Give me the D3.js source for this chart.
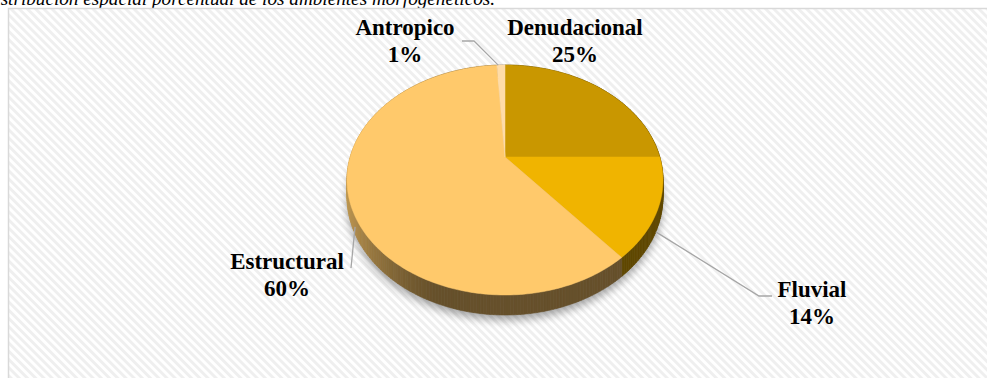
<!DOCTYPE html>
<html>
<head>
<meta charset="utf-8">
<script src="https://cdn.jsdelivr.net/npm/d3@7"></script>
<style>
  html, body { margin: 0; padding: 0; background: #ffffff; }
  svg { display: block; }
</style>
</head>
<body>
<svg id="chart" width="987" height="378"></svg>
<script>
// Morphogenetic environments, share of area (%)
const categories = ["Denudacional", "Fluvial", "Estructural", "Antropico"];
const shares = [25, 14, 60, 1];
const shareLabels = ["25%", "14%", "60%", "1%"];
const topColors = ["#C99700", "#F0B400", "#FFC96B", "#FFDCA8"];

const titleText = "Distribución espacial porcentual de los ambientes morfogenéticos.";

// Label placement: text centre / first baseline, plus the leader line geometry
const labelLayout = {
  Denudacional: { x: 575, y: 35 },
  Fluvial: { x: 812, y: 297, elbow: [772, 296], knee: [759, 296], angle: 118, depthFrac: 1.0 },
  Estructural: { x: 287, y: 269, elbow: null, knee: [351, 268], angle: 241, depthFrac: 0.6 },
  Antropico: { x: 405, y: 35, elbow: [462, 41], knee: [474, 41], angle: 357, depthFrac: 0 }
};

const W = 987, H = 378;
const serif = "'Liberation Serif', 'Times New Roman', Tinos, serif";
const svg = d3.select("#chart");
const defs = svg.append("defs");

// Diagonal hatch for the chart area
const pat = defs.append("pattern")
  .attr("id", "hatch")
  .attr("patternUnits", "userSpaceOnUse")
  .attr("width", 5.8).attr("height", 5.8)
  .attr("patternTransform", "rotate(-45)");
pat.append("rect").attr("width", 5.8).attr("height", 5.8).attr("fill", "#ffffff");
pat.append("rect").attr("width", 2.9).attr("height", 5.8).attr("fill", "#efefef");

const blur = defs.append("filter").attr("id", "shadow")
  .attr("x", "-20%").attr("y", "-20%").attr("width", "140%").attr("height", "140%");
blur.append("feGaussianBlur").attr("stdDeviation", 4);

// Title (runs above the top edge of the canvas)
svg.append("text")
  .attr("x", 495).attr("y", 5)
  .attr("text-anchor", "end")
  .attr("font-family", serif)
  .attr("font-style", "italic")
  .attr("font-size", 19.2)
  .attr("fill", "#000")
  .text(titleText);

// Chart area
svg.append("rect")
  .attr("x", 8.5).attr("y", 8.5)
  .attr("width", W + 10).attr("height", H + 10)
  .attr("fill", "url(#hatch)")
  .attr("stroke", "#d9d9d9").attr("stroke-width", 1.5);

// Perspective disc projection
const P = { cx: 505, cy: 157, A: 154.8, B: 110.4, k: 0.2, depth: 16 };
function project(angle, r, down) {
  const u = Math.sin(angle) * r, v = -Math.cos(angle) * r;
  const w = 1 - P.k * v;
  return [P.cx + P.A * u / w, P.cy + P.B * v / w + (down || 0) * P.depth / w];
}

const pie = d3.pie().sort(null).value(d => d.value);
const arcs = pie(categories.map((c, i) => ({ name: c, value: shares[i], color: topColors[i] })));

const lineGen = d3.line();
const rad = d => d * Math.PI / 180;

// Soft shadow under the disc
const shadowPts = d3.range(0, 361, 2).map(a => {
  const p = project(rad(a), 1.0, 1);
  return [p[0], p[1] + 5];
});
svg.append("path")
  .attr("d", lineGen(shadowPts) + "Z")
  .attr("fill", "#000").attr("opacity", 0.35)
  .attr("filter", "url(#shadow)");

// Side wall, painted back to front
function sideShade(color, angle) {
  const u = Math.sin(angle);
  const t = Math.max(0, Math.min(1, (-u - 0.35) / 0.65));
  const b = 0.40 + 0.38 * Math.pow(t, 1.3);
  const c = d3.rgb(color);
  return d3.rgb(c.r * b, c.g * b, c.b * b).formatHex();
}
const quads = [];
arcs.forEach(a => {
  const step = rad(1);
  for (let s = a.startAngle; s < a.endAngle - 1e-9; s += step) {
    const e = Math.min(s + step, a.endAngle);
    const m = (s + e) / 2;
    quads.push({
      depthKey: -Math.cos(m),
      color: sideShade(a.data.color, m),
      pts: [project(s, 1, 0), project(e, 1, 0), project(e, 1, 1), project(s, 1, 1)]
    });
  }
});
quads.sort((p, q) => p.depthKey - q.depthKey);
svg.append("g").selectAll("path").data(quads).join("path")
  .attr("d", d => lineGen(d.pts) + "Z")
  .attr("fill", d => d.color)
  .attr("stroke", d => d.color)
  .attr("stroke-width", 0.6);

// Top face
svg.append("g").selectAll("path").data(arcs).join("path")
  .attr("d", a => {
    const n = Math.max(2, Math.ceil((a.endAngle - a.startAngle) / rad(1)));
    const pts = [project(0, 0, 0)];
    for (let i = 0; i <= n; i++) {
      pts.push(project(a.startAngle + (a.endAngle - a.startAngle) * i / n, 1, 0));
    }
    return lineGen(pts) + "Z";
  })
  .attr("fill", a => a.data.color)
  .attr("stroke", a => a.data.color)
  .attr("stroke-width", 0.5);

// Leader lines
arcs.forEach(a => {
  const L = labelLayout[a.data.name];
  if (!L || !L.knee) return;
  const pts = [];
  if (L.elbow) pts.push(L.elbow);
  pts.push(L.knee);
  pts.push(project(rad(L.angle), 1, L.depthFrac));
  svg.append("path")
    .attr("d", lineGen(pts))
    .attr("fill", "none")
    .attr("stroke", "#a6a6a6")
    .attr("stroke-width", 1.3);
});

// Labels
const lbl = svg.append("g")
  .attr("font-family", serif)
  .attr("font-weight", "bold")
  .attr("font-size", 23)
  .attr("fill", "#000")
  .attr("text-anchor", "middle");
arcs.forEach((a, i) => {
  const L = labelLayout[a.data.name];
  const t = lbl.append("text").attr("x", L.x).attr("y", L.y);
  t.append("tspan").attr("x", L.x).text(a.data.name);
  t.append("tspan").attr("x", L.x).attr("dy", 27).text(shareLabels[i]);
});
</script>
</body>
</html>
